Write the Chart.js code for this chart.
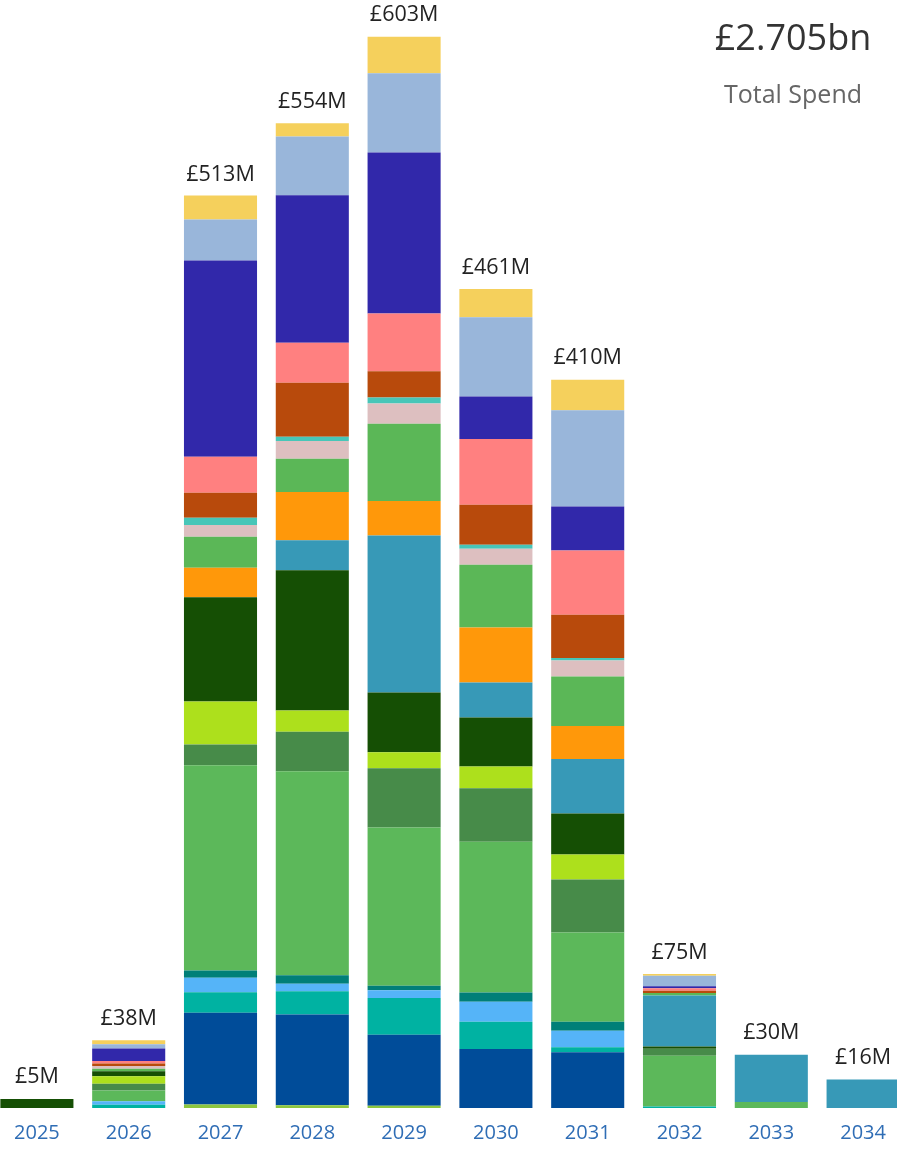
<!DOCTYPE html>
<html>
<head>
<meta charset="utf-8">
<script src="https://cdn.jsdelivr.net/npm/chart.js@4.4.1/dist/chart.umd.min.js"></script>
<style>
  html, body { margin: 0; padding: 0; background: #ffffff; overflow: hidden; }
  body { width: 897px; height: 1152px; position: relative; font-family: "Open Sans", "Noto Sans", sans-serif; }
  #wrap { position: absolute; left: -9px; top: 0; width: 918px; height: 1165px; }
  #title { position: absolute; left: 693px; width: 200px; top: 12px; text-align: center; font-size: 36px; color: #333333; line-height: 50px; }
  #subtitle { position: absolute; left: 693px; width: 200px; top: 76px; text-align: center; font-size: 25px; color: #666666; line-height: 34px; }
</style>
</head>
<body>
<div id="wrap"><canvas id="c" width="918" height="1165"></canvas></div>
<div id="title">£2.705bn</div>
<div id="subtitle">Total Spend</div>
<script>
const years = ['2025','2026','2027','2028','2029','2030','2031','2032','2033','2034'];
const totals = [5, 38, 513, 554, 603, 461, 410, 75, 30, 16];

// series, bottom to top of each stack (£M per year)
const s01 = [0, 0, 2.0, 1.6, 1.3, 0, 0, 0, 0, 0];
const s02 = [0, 0, 51.7, 51.1, 40.0, 33.2, 31.4, 0, 0, 0];
const s03 = [0, 1.9, 11.5, 13.1, 20.7, 15.4, 2.8, 0.9, 0, 0];
const s04 = [0, 1.9, 8.1, 4.2, 4.3, 11.3, 9.3, 0, 0, 0];
const s05 = [0, 0, 4.1, 4.8, 2.6, 5.1, 5.1, 0, 0, 0];
const s06 = [0, 6.0, 115.6, 114.9, 89.1, 85.0, 50.3, 28.5, 3.4, 0];
const s07 = [0, 3.8, 11.7, 22.2, 33.4, 30.1, 29.8, 3.9, 0, 0];
const s08 = [0, 4.3, 24.3, 12.0, 9.0, 12.2, 14.1, 0, 0, 0];
const s09 = [5, 2.8, 58.7, 78.9, 33.6, 27.6, 23.1, 1.3, 0, 0];
const s10 = [0, 0, 0, 16.9, 88.4, 19.7, 30.6, 28.7, 26.6, 16];
const s11 = [0, 0, 16.5, 27.2, 19.5, 31.0, 18.6, 0, 0, 0];
const s12 = [0, 1.4, 17.5, 18.8, 43.4, 35.3, 27.9, 1.5, 0, 0];
const s13 = [0, 1.5, 6.6, 9.9, 11.5, 9.0, 9.0, 0, 0, 0];
const s14 = [0, 0, 4.1, 2.5, 3.4, 2.3, 1.4, 0, 0, 0];
const s15 = [0, 1.4, 14.1, 30.4, 14.7, 22.5, 24.4, 1.3, 0, 0];
const s16 = [0, 1.5, 20.3, 22.5, 32.5, 37.0, 36.2, 1.3, 0, 0];
const s17 = [0, 7.0, 110.5, 83.0, 90.7, 24.0, 24.8, 1.1, 0, 0];
const s18 = [0, 2.4, 23.1, 33.1, 44.7, 44.7, 54.1, 6.0, 0, 0];
const s19 = [0, 2.3, 13.5, 7.5, 20.5, 15.8, 17.3, 1.0, 0, 0];

const seriesData = [s01,s02,s03,s04,s05,s06,s07,s08,s09,s10,s11,s12,s13,s14,s15,s16,s17,s18,s19];
const seriesColors = ['#8CC63E','#004C99','#00B2A2','#55B4F8','#007F78','#5CB85A','#478B49','#ADE01C','#154F04',
  '#3799B7','#FF980A','#5BB757','#DDBFC0','#47C6B8','#B84A0C','#FF8080','#3128AA','#99B6DA','#F5D05C'];

const datasets = seriesData.map((d, i) => ({
  label: 'Series ' + (i + 1),
  data: d,
  backgroundColor: seriesColors[i],
  borderWidth: 0,
  barPercentage: 0.796,
  categoryPercentage: 1.0
}));

const totalLabels = {
  id: 'totalLabels',
  afterDatasetsDraw(chart) {
    const ctx = chart.ctx;
    const xs = chart.scales.x, ys = chart.scales.y;
    ctx.save();
    ctx.font = '21.5px "Open Sans", "Noto Sans", sans-serif';
    ctx.fillStyle = '#222222';
    ctx.textAlign = 'center';
    ctx.textBaseline = 'middle';
    totals.forEach((t, i) => {
      ctx.fillText('£' + t + 'M', xs.getPixelForValue(i), ys.getPixelForValue(t) - 22);
    });
    ctx.restore();
  }
};

new Chart(document.getElementById('c'), {
  type: 'bar',
  data: { labels: years, datasets },
  options: {
    responsive: false,
    animation: false,
    devicePixelRatio: 1,
    layout: { padding: { left: 0, right: 0, top: 0, bottom: 7 } },
    plugins: { legend: { display: false }, tooltip: { enabled: false } },
    scales: {
      x: {
        stacked: true,
        grid: { display: false, drawTicks: false },
        border: { display: false },
        ticks: { color: '#2F6DB5', padding: 13, font: { size: 20, family: '"Open Sans", "Noto Sans", sans-serif' } }
      },
      y: { stacked: true, display: false, min: 0, max: 624 }
    }
  },
  plugins: [totalLabels]
});
</script>
</body>
</html>
